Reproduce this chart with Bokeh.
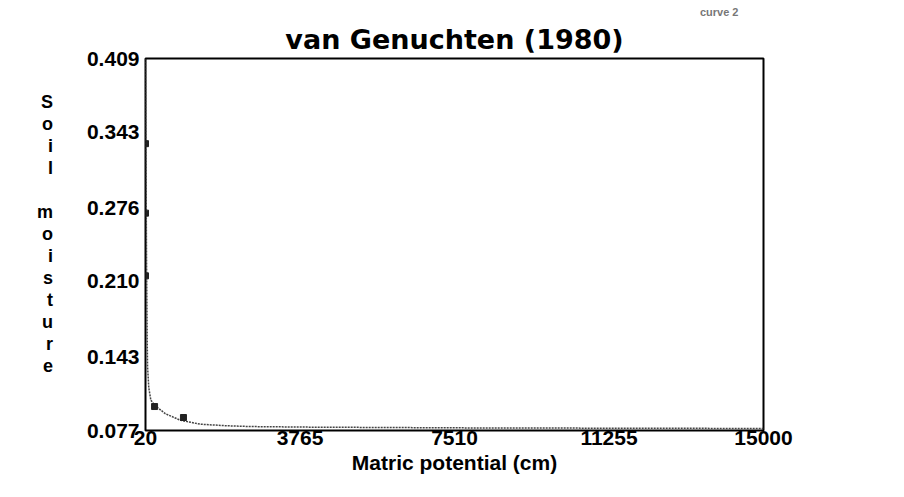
from bokeh.plotting import figure
from bokeh.models import FixedTicker, Title
from bokeh.embed import file_html
from bokeh.resources import INLINE

# ---- data ----
x_ticks = [20, 3765, 7510, 11255, 15000]
y_ticks = [0.077, 0.143, 0.210, 0.276, 0.343, 0.409]
y_tick_labels = ["0.077", "0.143", "0.210", "0.276", "0.343", "0.409"]

curve_h = [20, 30, 45, 60, 70, 100, 150, 260, 500, 870, 1350, 2000, 2600, 4000, 8000, 15000]
curve_theta = [0.409, 0.330, 0.230, 0.160, 0.134, 0.115, 0.104, 0.099, 0.092, 0.0861, 0.0826,
               0.0812, 0.0805, 0.0800, 0.0793, 0.0788]

obs_h = [20, 20, 20, 240, 940]
obs_theta = [0.333, 0.271, 0.215, 0.0984, 0.0886]

title_text = "van Genuchten (1980)"
corner_text = "curve  2"
x_label = "Matric potential (cm)"
y_label_letters = ["S", "o", "i", "l", "", "m", "o", "i", "s", "t", "u", "r", "e", " "]

W, H = 888, 481

p = figure(width=W, height=H, output_backend="svg", toolbar_location=None,
           x_range=(20, 15000), y_range=(0.077, 0.409),
           min_border_left=145, min_border_right=125, min_border_top=58, min_border_bottom=51)
p.background_fill_color = "white"
p.border_fill_color = "white"
p.outline_line_color = "black"
p.outline_line_width = 2
p.xgrid.visible = False
p.ygrid.visible = False

# titles: the small corner note sits outermost, the main title next to the frame
p.title.text = corner_text
p.title.align = "right"
p.title.offset = 22
p.title.text_font = "Liberation Sans"
p.title.text_font_style = "bold"
p.title.text_font_size = "11px"
p.title.text_color = "#777777"
p.title.standoff = 0
p.add_layout(Title(text=title_text, align="center", text_font="DejaVu Sans",
                   text_font_style="bold", text_font_size="27px", text_color="black",
                   standoff=8), "above")

p.xaxis.ticker = FixedTicker(ticks=x_ticks)
p.yaxis.ticker = FixedTicker(ticks=y_ticks)
p.yaxis.major_label_overrides = {t: s for t, s in zip(y_ticks, y_tick_labels)}
for ax in (p.xaxis[0], p.yaxis[0]):
    ax.axis_line_color = None
    ax.major_tick_line_color = None
    ax.minor_tick_line_color = None
    ax.major_tick_out = 0
    ax.major_tick_in = 0
    ax.major_label_text_font = "Liberation Sans"
    ax.major_label_text_font_style = "bold"
    ax.major_label_text_font_size = "21px"
    ax.major_label_text_color = "black"
p.xaxis.major_label_standoff = 0
p.yaxis.major_label_standoff = 6

p.xaxis.axis_label = x_label
p.xaxis.axis_label_text_font = "Liberation Sans"
p.xaxis.axis_label_text_font_style = "bold"
p.xaxis.axis_label_text_font_size = "21px"
p.xaxis.axis_label_text_color = "black"
p.xaxis.axis_label_standoff = 3

p.yaxis.axis_label = "\n".join(y_label_letters)
p.yaxis.axis_label_orientation = "horizontal"
p.yaxis.axis_label_text_font = "Liberation Sans"
p.yaxis.axis_label_text_font_style = "bold"
p.yaxis.axis_label_text_font_size = "18px"
p.yaxis.axis_label_text_color = "black"
p.yaxis.axis_label_text_line_height = 1.1
p.yaxis.axis_label_text_align = "center"
p.yaxis.axis_label_standoff = 31

p.line(curve_h, curve_theta, line_color="#444444", line_width=1.5, line_dash="2 1")
p.scatter(obs_h, obs_theta, marker="square", size=6, color="#222222")

open("out.html", "w").write(file_html(p, INLINE))
